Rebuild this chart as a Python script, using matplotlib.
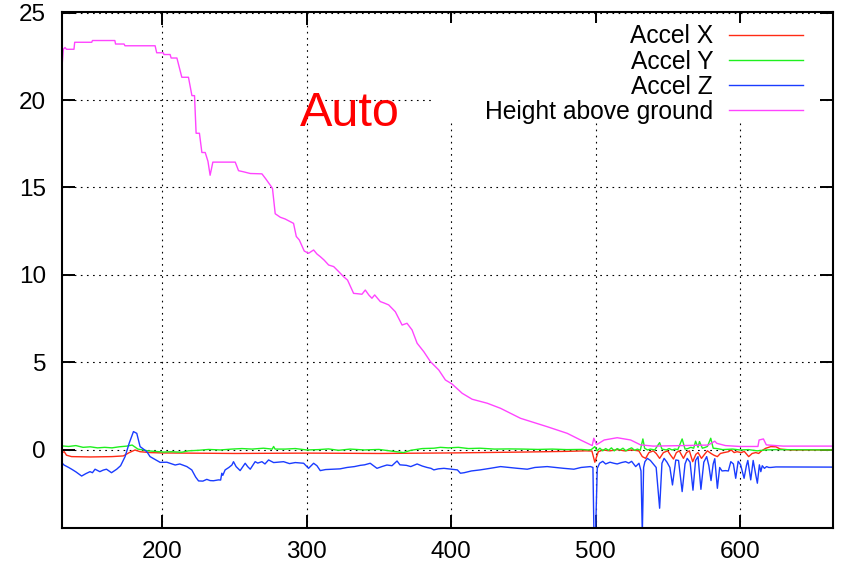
import matplotlib
matplotlib.use("Agg")
import matplotlib.pyplot as plt
from matplotlib.patches import Rectangle

plt.rcParams['font.family'] = ['Liberation Sans', 'DejaVu Sans']

# ---------------- data ----------------
height_x = [130.5, 131.3, 132.5, 133.5, 138.7, 139.2, 151.0, 151.5, 167.0, 167.5, 173.4, 174.0,
            194.9, 196.0, 200.6, 201.0, 205.3, 206.0, 210.0, 213.4, 218.0, 220.4, 222.2, 223.3,
            225.6, 227.3, 229.6, 231.5, 233.0, 234.9, 250.4, 252.7, 256.0, 260.8, 268.9, 271.5,
            274.6, 276.2, 278.1, 281.6, 285.0, 287.3, 290.8, 292.7, 294.8, 298.2, 301.2, 304.7,
            307.0, 309.3, 312.0, 315.1, 318.6, 322.0, 325.5, 328.2, 332.4, 335.0, 338.2, 340.5,
            343.0, 345.1, 347.0, 350.9, 353.5, 356.7, 361.3, 366.0, 369.4, 372.9, 376.4, 381.0,
            385.6, 391.4, 396.0, 400.6, 407.6, 414.5, 425.0, 434.2, 448.0, 466.5, 480.4, 489.6,
            497.7, 498.8, 500.7, 506.0, 515.0, 524.3, 531.2, 540.0, 560.0, 578.0, 582.6, 584.0,
            590.0, 600.0, 612.5, 613.3, 616.3, 618.3, 630.0, 664.5]
height_y = [22.0, 22.9, 23.0, 22.9, 22.9, 23.3, 23.3, 23.4, 23.4, 23.2, 23.2, 23.1,
            23.1, 22.7, 22.7, 22.6, 22.6, 22.4, 22.4, 21.3, 21.3, 20.25, 20.25, 18.1,
            18.1, 17.0, 17.0, 16.5, 15.7, 16.45, 16.45, 15.96, 15.9, 15.8, 15.78, 15.5,
            15.14, 14.95, 13.5, 13.3, 13.2, 13.1, 12.95, 12.2, 12.0, 11.37, 11.24, 11.43,
            11.2, 11.05, 10.85, 10.57, 10.48, 10.2, 9.9, 9.71, 8.95, 8.93, 8.9, 9.14,
            8.85, 8.67, 8.86, 8.48, 8.4, 8.29, 7.9, 7.14, 7.24, 6.86, 6.1, 5.62,
            5.05, 4.57, 4.0, 3.77, 3.24, 2.9, 2.67, 2.38, 1.81, 1.33, 0.95, 0.57,
            0.25, 0.67, 0.3, 0.57, 0.70, 0.57, 0.29, 0.22, 0.25, 0.28, 0.5, 0.38,
            0.25, 0.2, 0.2, 0.57, 0.63, 0.29, 0.22, 0.22]

accel_x_x = [130.5, 132.0, 133.5, 137.0, 150.0, 165.0, 172.9, 177.0, 181.0, 184.5, 191.4, 200.0,
             250.0, 300.0, 350.0, 400.0, 450.0, 480.0, 493.0, 497.5, 499.5, 501.9, 505.0, 510.0,
             515.0, 520.0, 525.0, 530.0, 532.4, 534.7, 537.0, 540.0, 542.0, 544.4, 547.0, 550.0,
             552.0, 554.0, 556.0, 558.0, 560.9, 563.0, 565.0, 567.3, 569.5, 571.0, 573.4, 575.5,
             577.5, 580.0, 582.0, 584.4, 586.5, 589.0, 592.0, 594.0, 596.0, 598.0, 601.0, 603.0,
             606.1, 608.5, 611.0, 613.0, 615.0, 618.0, 621.4, 625.0, 628.0, 635.0, 664.5]
accel_x_y = [-0.15, -0.1, -0.3, -0.38, -0.4, -0.38, -0.34, -0.15, 0.0, -0.1, -0.15, -0.17,
             -0.2, -0.18, -0.2, -0.17, -0.12, -0.08, -0.05, -0.06, -0.7, -0.1, 0.0, -0.05,
             0.02, -0.05, 0.0, -0.05, -0.38, -0.48, -0.15, -0.05, -0.2, -0.48, -0.15, -0.05,
             -0.3, -0.52, -0.15, -0.05, -0.48, -0.15, -0.05, -0.67, -0.25, -0.15, -0.48, -0.25,
             -0.05, -0.2, -0.3, -0.38, -0.2, -0.15, -0.1, 0.0, -0.15, -0.1, -0.15, -0.08,
             -0.38, -0.2, -0.15, -0.2, -0.05, 0.1, 0.19, 0.18, 0.05, 0.0, 0.0]

accel_y_x = [130.5, 135.0, 140.0, 145.0, 150.0, 155.0, 160.0, 165.0, 170.0, 175.3, 179.0, 183.0,
             190.0, 200.7, 206.0, 213.4, 218.0, 225.0, 232.0, 240.0, 248.0, 255.0, 262.0, 270.0,
             276.0, 277.0, 278.0, 285.0, 292.0, 300.0, 308.0, 315.0, 322.0, 330.0, 340.0, 350.0,
             360.0, 367.0, 372.0, 380.0, 388.0, 392.5, 398.0, 405.0, 412.0, 420.0, 430.0, 440.0,
             450.0, 460.0, 470.0, 480.0, 490.0, 495.0, 497.0, 499.5, 501.0, 503.0, 505.0, 507.0,
             509.0, 511.0, 513.0, 515.0, 517.0, 519.0, 521.0, 523.0, 525.0, 527.0, 529.0, 531.0,
             532.8, 534.0, 536.0, 538.0, 541.0, 544.4, 546.0, 549.0, 551.0, 553.0, 555.0, 557.0,
             560.0, 562.0, 564.0, 566.0, 568.0, 569.3, 571.0, 572.0, 574.0, 576.0, 577.5, 579.8,
             581.5, 584.0, 588.0, 595.0, 600.0, 606.0, 612.0, 618.0, 625.0, 664.5]
accel_y_y = [0.23, 0.2, 0.25, 0.15, 0.18, 0.12, 0.15, 0.12, 0.18, 0.22, 0.28, 0.05,
             -0.05, -0.12, -0.1, -0.13, -0.05, -0.02, 0.03, 0.0, 0.05, 0.08, 0.05, 0.1,
             0.05, 0.2, 0.05, 0.05, 0.08, 0.0, 0.02, 0.06, -0.02, 0.05, 0.0, 0.03,
             -0.08, -0.15, -0.02, 0.08, 0.1, 0.15, 0.12, 0.15, 0.08, 0.1, 0.05, 0.06,
             0.05, 0.03, 0.05, 0.02, 0.03, 0.0, 0.02, 0.19, -0.05, 0.1, -0.05, 0.08,
             -0.02, 0.12, -0.05, 0.08, 0.0, 0.1, -0.05, 0.05, 0.12, -0.02, 0.05, -0.02,
             0.63, 0.1, 0.0, 0.05, 0.0, 0.42, 0.05, 0.0, 0.08, 0.0, 0.05, 0.02,
             0.63, 0.05, 0.08, 0.15, 0.1, 0.5, 0.15, 0.48, 0.1, 0.15, 0.2, 0.67,
             0.1, 0.08, 0.02, 0.05, 0.0, 0.02, -0.05, 0.0, 0.02, 0.0]

accel_z_x = [130.5, 131.8, 135.0, 137.1, 140.0, 144.0, 147.0, 149.8, 151.5, 153.3, 156.6, 159.0,
             161.2, 164.7, 168.3, 171.0, 174.1, 177.0, 179.9, 182.2, 184.5, 186.0, 189.2, 191.4,
             195.0, 198.4, 203.0, 208.8, 212.0, 216.9, 220.3, 223.0, 225.0, 228.0, 230.7, 233.0,
             235.3, 238.8, 240.3, 241.1, 241.8, 243.4, 246.0, 248.1, 249.2, 251.0, 253.8, 257.3,
             259.0, 260.8, 264.2, 266.0, 268.9, 271.0, 273.5, 277.0, 280.0, 283.9, 288.0, 292.0,
             297.8, 301.2, 304.7, 307.0, 309.3, 313.0, 318.6, 323.0, 327.9, 333.0, 337.0, 340.0,
             343.9, 348.6, 352.0, 355.5, 359.0, 362.5, 364.5, 369.0, 372.0, 376.4, 380.0, 383.3,
             386.0, 388.0, 391.0, 395.0, 400.0, 404.3, 406.4, 409.0, 414.0, 420.0, 427.0, 434.2,
             440.0, 446.0, 452.7, 458.0, 466.5, 472.0, 478.0, 485.0, 490.0, 496.5, 498.2, 498.9,
             500.0, 501.2, 502.8, 505.0, 507.0, 510.0, 512.7, 515.0, 518.0, 520.8, 523.0, 525.0,
             527.8, 530.1, 531.5, 532.4, 533.3, 534.2, 535.9, 538.0, 540.0, 542.0, 544.4, 546.0,
             547.5, 549.5, 551.5, 553.3, 555.6, 557.5, 560.0, 562.0, 563.5, 565.5, 567.5, 569.3,
             571.0, 573.0, 575.0, 577.0, 578.5, 580.0, 581.5, 582.6, 584.4, 586.0, 587.6, 590.0,
             592.0, 593.7, 595.5, 597.1, 598.8, 600.5, 602.9, 604.5, 605.5, 607.5, 609.2, 611.0,
             612.1, 613.5, 614.5, 615.5, 617.0, 618.5, 620.0, 621.4, 625.0, 664.5]
accel_z_y = [-0.75, -0.86, -1.0, -1.1, -1.25, -1.49, -1.35, -1.24, -1.3, -1.1, -1.24, -1.15,
             -1.1, -1.3, -1.1, -0.9, -0.38, 0.4, 1.05, 0.95, 0.19, 0.1, -0.1, -0.38,
             -0.55, -0.71, -0.7, -0.86, -0.8, -0.95, -1.14, -1.55, -1.77, -1.78, -1.68, -1.75,
             -1.76, -1.71, -1.72, -1.33, -1.45, -1.14, -1.0, -0.86, -0.67, -0.95, -1.18, -0.76,
             -0.95, -1.1, -0.67, -0.75, -0.67, -0.8, -0.57, -0.72, -0.7, -0.67, -0.78, -0.72,
             -0.76, -1.05, -0.76, -0.9, -1.18, -1.12, -1.1, -1.08, -1.0, -0.95, -0.88, -0.85,
             -0.76, -1.05, -0.95, -0.86, -0.9, -0.63, -0.85, -0.88, -0.95, -0.8, -0.92, -1.0,
             -1.05, -1.14, -1.08, -1.05, -1.1, -1.14, -1.33, -1.3, -1.2, -1.14, -1.05, -0.95,
             -1.0, -1.05, -1.1, -1.0, -0.95, -1.0, -1.05, -1.1, -1.0, -0.95, -1.0, -4.8,
             -4.8, -1.05, -0.76, -0.65, -0.8, -0.7, -0.76, -0.8, -0.72, -0.67, -0.75, -0.65,
             -0.95, -0.76, -1.2, -4.8, -1.0, -0.67, -0.48, -0.6, -0.8, -1.0, -3.33, -0.76,
             -0.48, -0.7, -1.0, -2.0, -0.57, -0.6, -2.38, -0.8, -0.48, -0.7, -2.3, -0.6,
             -0.38, -2.25, -0.7, -0.38, -0.9, -1.75, -0.8, -0.5, -2.19, -1.0, -1.2, -1.18,
             -1.2, -0.67, -0.8, -1.62, -0.65, -0.85, -1.62, -0.9, -0.6, -1.71, -0.6, -1.43,
             -1.9, -0.85, -1.24, -0.9, -1.05, -0.95, -1.0, -1.0, -0.97, -0.98]

series_labels = ["Accel X", "Accel Y", "Accel Z", "Height above ground"]
x_ticks = [200, 300, 400, 500, 600]
y_ticks = [0, 5, 10, 15, 20, 25]
annotation = "Auto"

# ---------------- figure ----------------
fig = plt.figure(figsize=(8.46, 5.67), dpi=100)
ax = fig.add_axes([62 / 846, 39 / 567, 771 / 846, 516 / 567])

colors = ['#ff2a14', '#1ef01e', '#1a3cff', '#ff44ff']
lx, = ax.plot(accel_x_x, accel_x_y, color=colors[0], lw=1.0, label=series_labels[0])
ly, = ax.plot(accel_y_x, accel_y_y, color=colors[1], lw=1.0, label=series_labels[1])
lz, = ax.plot(accel_z_x, accel_z_y, color=colors[2], lw=1.0, label=series_labels[2])
lh, = ax.plot(height_x, height_y, color=colors[3], lw=1.0, label=series_labels[3])

ax.set_xlim(130.4, 664.5)
ax.set_ylim(-4.46, 25.03)
ax.set_xticks(x_ticks)
ax.set_yticks(y_ticks)

ax.set_axisbelow(True)
ax.grid(True, color='black', linestyle=(0, (1.5, 4)), linewidth=0.8)

for sp in ax.spines.values():
    sp.set_linewidth(1.5)
ax.tick_params(direction='in', length=9.4, width=1.4, top=True, right=True,
               labelsize=17.5, colors='black')
ax.tick_params(axis='y', pad=11.5)
ax.tick_params(axis='x', pad=9.0)

# opaque key area (hides grid behind the key, as in the reference)
ax.add_patch(Rectangle((0.4786, 0.787), 0.982 - 0.4786, 0.9787 - 0.787,
                       transform=ax.transAxes, facecolor='white', edgecolor='none', zorder=1))

leg = ax.legend(handles=[lx, ly, lz, lh], loc='upper right', bbox_to_anchor=(0.961, 0.976),
                markerfirst=False, frameon=False, fontsize=17.7, handlelength=3.0,
                handletextpad=0.65, labelspacing=0.05, borderpad=0, borderaxespad=0)

ax.text(295.4, 18.5, annotation, color='#ff0000', fontsize=35, ha='left', va='baseline')

fig.savefig('out.png', dpi=100)
